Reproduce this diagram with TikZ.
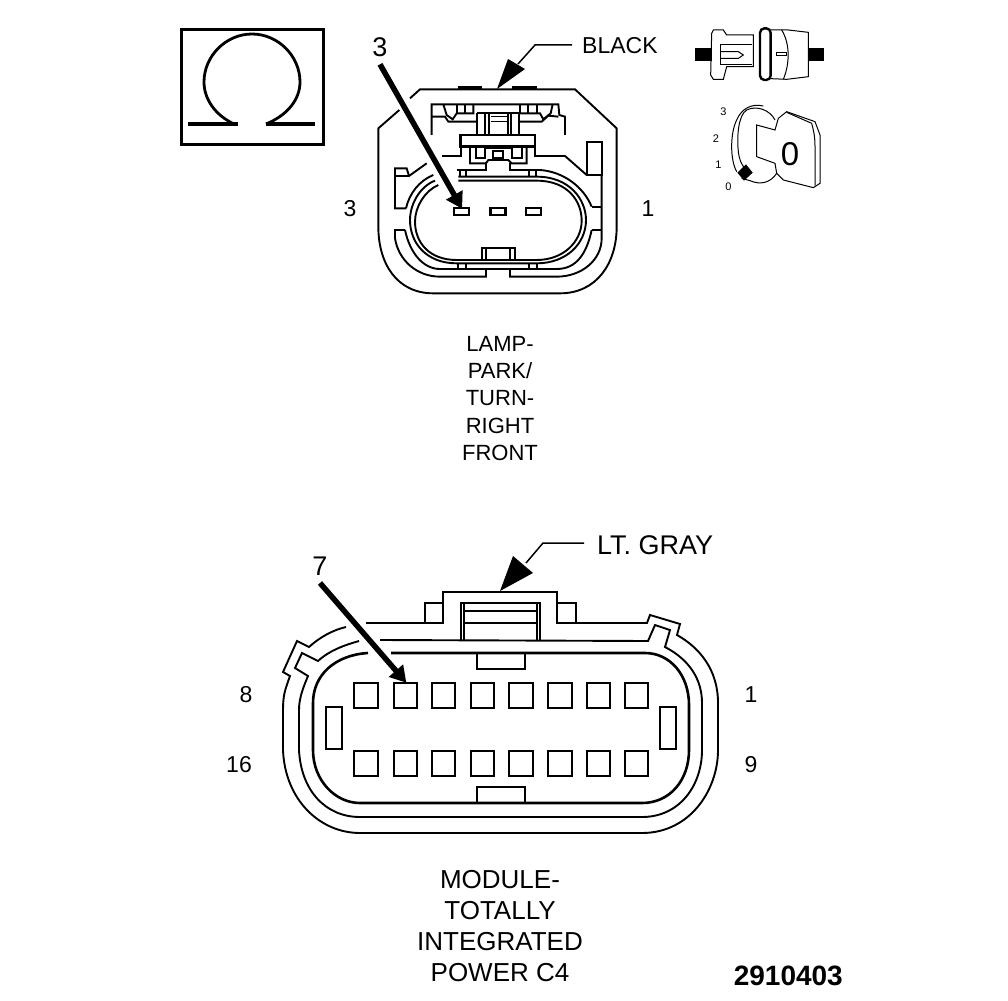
\documentclass[tikz,border=0pt]{standalone}
\usepackage{fontspec}
\setmainfont{Liberation Sans}
\usetikzlibrary{arrows.meta}
\tikzset{
  lab/.style={font=\fontsize{23}{27}\selectfont,inner sep=0pt,text=black},
  caption/.style={lab,align=center},
  lw/.style={line width=1.9pt,line join=miter},
  thin line/.style={line width=1pt},
  heavy/.style={line width=2.6pt},
  pinbox/.style={line width=2.4pt},
  pointer/.style={line width=5.5pt,-{Triangle[length=16pt,width=18pt]},shorten >=-1pt},
  halo/.style={line width=10pt,white,shorten >=8pt},
  leader/.style={line width=1.5pt},
  wedge/.style={fill=black,draw=none},
}
\begin{document}
\begin{tikzpicture}[x=1pt,y=-1pt]
\useasboundingbox (0,0) rectangle (1008,1000);
% ohm box
\draw[line width=3pt] (181,30) rectangle (323,145);
\draw[line width=2.8pt] (234,124) .. controls (215,115) and (204,99) .. (204,82) .. controls (204,56) and (226,34) .. (252,34) .. controls (278,34) and (300,56) .. (300,82) .. controls (300,99) and (288,115) .. (266,124);
\draw[line width=3.6pt] (188,124) -- (238,124) (266,124) -- (315,124);

% top connector, reference zoom frame
\begin{scope}[shift={(360pt,-30pt)},x=0.33333pt,y=-0.33333pt]
\draw[lw] (150,205) -- (180,178) -- (645,178) -- (770,295) -- (770,590) .. controls (770,700) and (710,790) .. (600,790) -- (220,790) .. controls (110,790) and (55,700) .. (55,590) -- (55,295) -- (118,240);
\draw[line width=3pt] (295,174) -- (365,174) (455,174) -- (530,174);
% housing
\draw[lw] (215,315) -- (215,223) -- (595,223) -- (598,255) -- (615,260) -- (615,315);
\draw[lw] (250,223) -- (260,255) -- (278,268) -- (290,250) -- (340,250) -- (340,223);
\draw[lw] (290,223) -- (290,250) (315,223) -- (315,250);
\draw[lw] (480,223) -- (480,250) -- (540,250) -- (550,268) -- (572,250) -- (578,223);
\draw[lw] (505,223) -- (505,250) (530,223) -- (530,250);
\draw[lw] (215,260) -- (255,260) -- (265,275) -- (350,275);
\draw[lw] (477,275) -- (545,275) -- (565,257) -- (595,260);
\draw[lw] (350,250) -- (477,250);
\draw[lw] (350,250) -- (350,315) (375,250) -- (375,315) (388,250) -- (388,315) (445,250) -- (445,315) (452,250) -- (452,315) (477,250) -- (477,315);
\draw[thin line] (392,260) -- (442,260) (392,275) -- (442,275);
\draw[heavy] (302,315) rectangle (525,350);
\draw[lw] (330,350) -- (330,400) -- (378,400) -- (385,390) -- (445,390) -- (455,400) -- (500,400) -- (500,350);
\draw[lw] (348,350) -- (348,383) -- (375,383) -- (375,355) -- (455,355) -- (455,383) -- (485,383) -- (485,350);
\draw[lw] (398,383) -- (398,363) -- (430,363) -- (430,383) -- cycle;
\draw[lw] (245,378) -- (302,378) -- (302,350);
\draw[lw] (525,350) -- (525,378) -- (615,378) -- (680,435);
\draw[lw] (378,395) -- (378,420) -- (290,420) (450,400) -- (450,420) -- (540,420);
\draw[lw] (300,420) -- (300,437) (318,420) -- (318,437) (507,420) -- (507,437) (527,420) -- (527,437);
% left tab and side walls
\draw[lw] (147,438) -- (140,415) -- (105,415) -- (105,535) -- (138,535);
\draw[lw] (105,438) -- (147,438) -- (200,400);
\draw[lw] (135,600) -- (105,600) -- (105,625) .. controls (115,690) and (170,740) .. (240,740) -- (378,740) -- (378,717) -- (450,717) -- (450,740) -- (590,740) .. controls (665,740) and (725,690) .. (725,625) -- (725,435);
\draw[lw] (680,335) rectangle (725,435);
\draw[lw] (695,530) -- (725,530) (695,600) -- (725,600);
% wall arc
\draw[lw] (138,535) .. controls (148,490) and (178,452) .. (220,435);
\draw[lw] (540,420) .. controls (610,425) and (670,470) .. (695,530);
\draw[lw] (135,600) .. controls (150,670) and (190,717) .. (240,717) -- (378,717);
\draw[lw] (450,717) -- (590,717) .. controls (650,717) and (680,670) .. (695,600);
% oval
\draw[lw] (295,440) -- (530,440) .. controls (630,440) and (678,510) .. (678,570) .. controls (678,640) and (620,700) .. (530,700) -- (290,700) .. controls (200,700) and (150,640) .. (150,570) .. controls (150,520) and (182,468) .. (225,452);
\draw[lw] (295,452) -- (530,452) .. controls (625,452) and (665,515) .. (665,572) .. controls (665,635) and (610,690) .. (530,690) -- (290,690) .. controls (205,690) and (165,635) .. (165,575) .. controls (165,530) and (195,482) .. (235,465);
\draw[lw] (295,700) -- (295,717) (318,700) -- (318,717) (507,700) -- (507,717) (530,700) -- (530,717);
\draw[lw] (365,690) -- (365,655) -- (465,655) -- (465,690) (378,655) -- (378,690) (450,655) -- (450,690);
% terminals
\coordinate (tailA) at (60,103);
\node[minimum width=15pt,minimum height=7pt,inner sep=0pt] (tpin3) at (305,545) {};
\draw[halo] (tailA) -- (tpin3.north);
\node[draw,pinbox,minimum width=15pt,minimum height=7pt,inner sep=0pt] (tpin3b) at (305,545) {};
\node[draw,pinbox,minimum width=15pt,minimum height=7pt,inner sep=0pt] (tpin2) at (414,545) {};
\node[draw,pinbox,minimum width=15pt,minimum height=7pt,inner sep=0pt] (tpin1) at (521,545) {};
\draw[pointer] (tailA) -- (tpin3.north);
\end{scope}

% top colour leader
\node[lab,anchor=west] (black) at (582,46) {BLACK};
\coordinate (bend1) at (535,45);
\coordinate (tip1) at (497,89);
\draw[leader] (572,45) -- (bend1) -- (518,64);
\fill[wedge] (tip1) -- (508,59) -- (525,69) -- cycle;

% bottom connector
\draw[lw] (346,627) .. controls (333,630) and (320,637) .. (309,647) -- (297,641) -- (283,672) -- (290,676) .. controls (285,690) and (283,695) .. (283,710) -- (283,750) .. controls (285,800) and (320,833) .. (360,833) -- (642,833) .. controls (690,833) and (718,790) .. (718,750) -- (718,703) .. controls (718,670) and (700,648) .. (677,635) -- (680,624) -- (650,615) -- (647,623) -- (557,623) -- (557,592) -- (443,592) -- (443,623) -- (366,623);
\draw[lw] (359,641) .. controls (345,645) and (330,650) .. (318,661) -- (302,653) -- (295,668) -- (308,676) .. controls (302,690) and (299,700) .. (299,710) -- (299,750) .. controls (301,790) and (325,817) .. (360,817) -- (642,817) .. controls (680,817) and (702,785) .. (702,750) -- (702,703) .. controls (702,680) and (690,660) .. (665,647) -- (670,630) -- (655,625) -- (648,641) -- (380,640);
\draw[heavy] (368,653) .. controls (335,655) and (313,675) .. (313,703) -- (313,750) .. controls (313,780) and (335,803) .. (360,803) -- (642,803) .. controls (670,803) and (689,780) .. (689,750) -- (689,705) .. controls (689,675) and (670,653) .. (645,653) -- (391,653);
\draw[lw] (477,653) -- (477,669) -- (525,669) -- (525,653);
\draw[heavy] (477,803) -- (477,787) -- (525,787) -- (525,803);
\draw[lw] (461,640) -- (461,603) -- (540,603) -- (540,640) (464,603) -- (464,640) (537,603) -- (537,640);
\draw[lw] (464,611) -- (537,611);
\draw[heavy] (464,623) -- (537,623);
\draw[lw] (443,603) -- (425,603) -- (425,623) (557,603) -- (576,603) -- (576,623) -- (557,623);
% arrow gap, then terminals
\coordinate (tailB) at (320,583);
\coordinate (headB) at (404.5,682);
\draw[halo] (tailB) -- (headB);
\foreach \n/\xa/\xb in {8/353/377,7/393/416,6/431/454,5/470/493,4/508/532,3/547/571,2/586/609,1/624/647}{
  \node[draw,pinbox,anchor=north west,minimum width={\xb-\xa},minimum height=25pt,inner sep=0pt] (up\n) at (\xa,682) {};
  \node[draw,pinbox,anchor=north west,minimum width={\xb-\xa},minimum height=25pt,inner sep=0pt] (lo\n) at (\xa,750) {};
}
\draw[pinbox] (326,707) rectangle (342,749);
\draw[pinbox] (660,707) rectangle (676,749);
\draw[pointer] (tailB) -- (up7.north);

% bottom colour leader
\node[lab,anchor=west,font=\fontsize{27}{30}\selectfont] (gray) at (597,545) {LT. GRAY};
\coordinate (bend2) at (543,543);
\coordinate (tip2) at (500,591);
\draw[leader] (584,543) -- (bend2) -- (526,563);
\fill[wedge] (tip2) -- (513,556) -- (533,573) -- cycle;

% labels
\node[lab] (n3top) at (350,209) {3};
\node[lab] (n1top) at (648,209) {1};
\node[lab] (n8) at (246,695) {8};
\node[lab] (n1) at (751,695) {1};
\node[lab] (n16) at (239,765) {16};
\node[lab] (n9) at (751,765) {9};
\node[lab,font=\fontsize{27}{30}\selectfont] (call3) at (380,47) {3};
\node[lab,font=\fontsize{27}{30}\selectfont] (call7) at (320,566) {7};
\node[caption,anchor=north,font=\fontsize{22}{27.3}\selectfont] (capA) at (500,336) {LAMP-\\PARK/\\TURN-\\RIGHT\\FRONT};
\node[caption,anchor=north,font=\fontsize{26}{31}\selectfont] (capB) at (500,870) {MODULE-\\TOTALLY\\INTEGRATED\\POWER C4};
\node[lab,anchor=east,font=\bfseries\fontsize{28}{30}\selectfont] (code) at (843,976) {2910403};

% icons
\begin{scope}[shift={(680pt,-20pt)},x=0.33333pt,y=-0.33333pt]
\fill (45,85) rectangle (95,122);
\fill (385,85) rectangle (433,122);
\draw[thin line] (95,40) -- (100,30) -- (130,30) -- (140,45) -- (220,45) -- (220,140) -- (140,140) -- (130,178) -- (100,178) -- (92,165) -- cycle;
\draw[thin line] (215,75) -- (120,75) -- (120,135) -- (215,135);
\draw[thin line] (120,95) -- (175,95) -- (190,105) -- (175,115) -- (120,115);
\draw[line width=2.4pt,rounded corners=4.5pt] (240,25) rectangle (272,180);
\draw[thin line] (272,30) -- (325,30) -- (385,37) -- (385,170) -- (320,178) -- (272,176);
\draw[thin line] (305,30) .. controls (330,70) and (330,130) .. (310,178);
\draw[thin line] (288,98) rectangle (320,106);
% dial
\draw[thin line] (230,315) -- (285,330) -- (295,295) -- (320,275) -- (405,305) -- (420,345) -- (420,490) -- (400,503) -- (310,480) -- (290,460) -- (285,430) -- (230,410) -- cycle;
\draw[thin line] (320,277) -- (395,310) .. controls (403,340) and (405,355) .. (405,380) -- (405,497);
\draw[thin line] (285,300) .. controls (270,270) and (230,255) .. (200,270) .. controls (175,285) and (170,350) .. (175,395) .. controls (178,420) and (185,435) .. (195,445);
\draw[thin line] (170,455) .. controls (150,420) and (150,340) .. (170,300) .. controls (185,265) and (215,250) .. (250,258);
\draw[thin line] (185,475) -- (210,482) .. controls (240,495) and (270,490) .. (290,460);
\fill (172,458) -- (198,433) -- (218,458) -- (192,482) -- cycle;
\node[inner sep=0pt,font=\fontsize{33}{36}\selectfont] (zero) at (330,403) {0};
\node[inner sep=0pt,font=\fontsize{11}{12}\selectfont] (d3) at (130,275) {3};
\node[inner sep=0pt,font=\fontsize{11}{12}\selectfont] (d2) at (108,355) {2};
\node[inner sep=0pt,font=\fontsize{11}{12}\selectfont] (d1) at (115,435) {1};
\node[inner sep=0pt,font=\fontsize{11}{12}\selectfont] (d0) at (145,500) {0};
\end{scope}
\end{tikzpicture}
\end{document}
